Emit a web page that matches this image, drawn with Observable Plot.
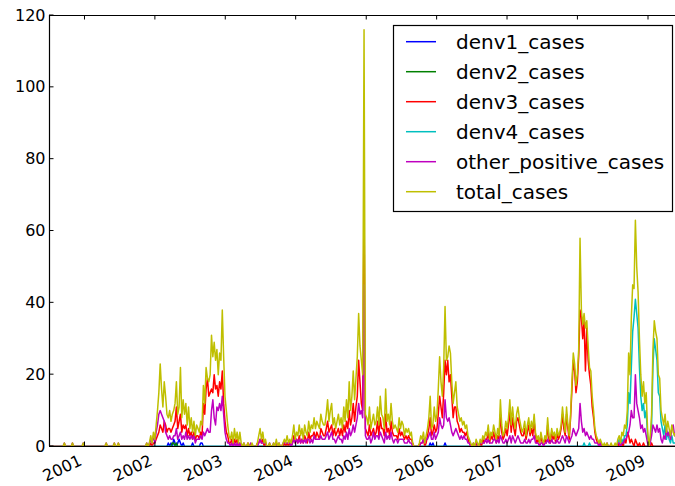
<!DOCTYPE html>
<html>
<head>
<meta charset="utf-8">
<script src="https://cdn.jsdelivr.net/npm/d3@7"></script>
<script src="https://cdn.jsdelivr.net/npm/@observablehq/plot@0.6"></script>
<style>
  html, body { margin: 0; padding: 0; background: #fff; }
  #chart { width: 675px; height: 486px; overflow: hidden; }
  #chart svg { display: block; }
</style>
</head>
<body>
<div id="chart"></div>
<script>
// ---- axis / tick labels ----
const start_date = "2000-07-01";   // first weekly observation
const end_date = "2009-05-21";     // right edge of the visible plot
const year_ticks = ["2001", "2002", "2003", "2004", "2005", "2006", "2007", "2008", "2009"];
const y_ticks = [0, 20, 40, 60, 80, 100, 120];
const series_names = ["denv1_cases", "denv2_cases", "denv3_cases", "denv4_cases", "other_positive_cases", "total_cases"];
const series_colors = ["#0000ff", "#008000", "#ff0000", "#00bfbf", "#bf00bf", "#bfbf00"];

// ---- weekly values, one row per season (July..June) ----
const total_cases = [
  0,0,0,0,0,0,0,0,0,0,0,1,0, 0,0,0,0,1,0,0,0,0,0,0,0,1, 0,0,0,0,0,0,0,0,0,0,0,0,0, 0,0,0,1,0,0,0,0,0,1,0,0,1,
  0,0,0,0,0,0,0,0,0,0,0,0,0, 0,0,0,0,0,0,0,1,0,1,3,1,4, 2,6,10,15,23,16,11,18,14,9,8,10,7, 9,10,12,18,9,11,22,8,13,9,12,6,11,
  5,8,4,7,3,6,5,4,7,6,17,12,22, 19,18,20,31,25,29,24,27,20,26,24,38,25, 14,10,6,3,2,4,1,5,2,4,1,4,1, 0,1,0,0,1,0,0,1,0,0,0,1,3,
  5,2,4,1,2,0,0,1,0,0,1,0,2, 0,1,0,0,1,2,1,3,1,2,1,3,6, 2,4,3,6,3,5,2,6,4,3,7,4,6, 5,8,5,7,6,5,9,7,6,6,9,13,7,
  10,12,6,8,5,7,9,6,8,5,11,7,13, 8,18,10,14,21,13,19,25,37,28,24,20,116, 9,8,6,11,5,7,9,6,7,11,6,14,9, 8,5,16,7,9,6,12,7,5,6,5,4,8,
  5,7,6,3,5,4,5,3,4,1,0,0,0, 0,1,3,2,4,1,3,5,8,14,5,6,11, 7,9,16,25,18,14,22,39,24,25,28,26,18, 12,15,18,11,9,7,8,6,7,5,6,3,2,
  1,0,1,0,2,1,0,2,1,3,2,4,3, 6,2,4,3,6,4,2,5,3,13,6,3,4, 7,5,8,13,6,11,7,5,9,11,8,6,4, 5,7,3,6,8,4,7,5,9,4,2,3,1,
  4,2,1,3,2,8,3,2,5,3,4,2,5, 3,4,6,11,7,4,11,6,3,9,18,26,23, 17,20,27,58,38,34,37,33,35,28,22,21,14, 10,5,3,2,1,2,1,0,1,0,1,0,0,
  1,0,0,1,0,2,3,1,4,3,6,5,10, 26,20,36,45,44,63,50,43,30,20,14,18,12, 15,5,0,3,9,27,35,32,30,20,19,10,8, 6,9,4,7,5,3,6,4,3,4
];

const denv3_cases = [
  0,0,0,0,0,0,0,0,0,0,0,0,0, 0,0,0,0,0,0,0,0,0,0,0,0,0, 0,0,0,0,0,0,0,0,0,0,0,0,0, 0,0,0,0,0,0,0,0,0,0,0,0,0,
  0,0,0,0,0,0,0,0,0,0,0,0,0, 0,0,0,0,0,0,0,0,0,0,1,0,1, 1,2,3,4,6,5,4,7,6,4,5,5,4, 5,6,7,11,5,7,9,4,6,5,6,3,5,
  3,4,2,4,2,3,3,2,4,3,12,9,16, 19,14,15,16,15,20,16,17,14,18,16,21,12, 7,4,3,1,1,2,0,2,1,2,0,1,0, 0,0,0,0,1,0,0,0,0,0,0,1,1,
  2,1,2,0,1,0,0,0,0,0,0,0,1, 0,0,0,0,0,1,0,1,0,1,0,1,3, 1,2,1,3,1,2,1,3,2,1,4,2,3, 3,4,2,4,3,2,5,4,3,3,5,7,4,
  5,6,3,5,3,4,5,3,5,3,6,4,7, 5,10,6,8,12,7,11,14,24,18,12,10,67, 5,4,3,6,3,4,5,3,4,7,3,8,5, 5,3,9,4,5,3,7,4,3,3,3,2,5,
  3,4,3,2,3,2,3,2,2,1,0,0,0, 0,0,1,1,2,0,1,3,5,8,3,4,6, 4,5,9,14,11,8,15,24,20,24,18,20,14, 8,11,11,7,6,4,5,4,4,3,4,2,1,
  0,0,0,0,1,0,0,1,0,2,1,2,2, 4,1,3,2,4,2,1,3,2,9,4,2,3, 5,3,6,10,4,8,5,3,7,8,6,4,3, 3,5,2,4,6,3,5,3,7,3,1,2,1,
  3,1,1,2,1,6,2,1,4,2,3,1,4, 2,3,5,9,5,3,9,5,2,8,16,24,21, 15,18,25,38,36,30,35,21,33,24,20,17,11, 8,4,2,1,1,1,0,0,0,0,0,0,0,
  0,0,0,0,0,0,1,0,1,0,2,1,4, 3,1,2,1,0,2,1,0,1,0,0,1,0, 0,0,0,0,1,0,0,0,0,0,0,0,0, 0,0,0,0,0,0,0,0,0,0
];

const other_positive_cases = [
  0,0,0,0,0,0,0,0,0,0,0,1,0, 0,0,0,0,1,0,0,0,0,0,0,0,1, 0,0,0,0,0,0,0,0,0,0,0,0,0, 0,0,0,1,0,0,0,0,0,1,0,0,1,
  0,0,0,0,0,0,0,0,0,0,0,0,0, 0,0,0,0,0,0,0,1,0,1,2,1,3, 1,4,6,9,10,9,8,7,4,3,2,3,2, 2,3,3,5,2,3,4,2,3,2,4,2,3,
  2,3,2,3,1,2,2,2,3,2,4,3,4, 5,4,4,10,13,8,6,11,10,12,10,14,9, 4,2,1,1,0,1,0,1,0,1,0,1,0, 0,1,0,0,0,0,1,0,0,0,0,0,1,
  2,1,1,1,1,0,0,1,0,0,1,0,1, 0,1,0,0,1,1,1,1,1,1,0,1,2, 1,2,1,2,1,2,1,2,1,2,2,1,2, 1,3,2,2,2,2,3,2,2,2,3,4,2,
  3,4,2,2,1,2,3,2,2,1,3,2,4, 2,5,3,4,6,4,6,8,12,9,10,8,45, 3,2,2,3,1,2,4,2,3,3,2,4,3, 2,1,4,2,3,2,4,2,1,2,2,1,2,
  2,2,2,1,1,1,2,1,1,0,0,0,0, 0,0,1,1,2,1,2,2,3,4,2,2,4, 2,3,4,8,6,5,6,13,8,7,8,6,4, 3,4,5,4,3,2,3,2,3,2,2,1,1,
  0,0,1,0,1,1,0,1,1,1,1,2,1, 2,1,1,1,2,2,1,2,1,3,2,1,1, 2,1,2,3,1,3,2,1,2,3,2,1,1, 1,2,1,1,2,1,2,2,3,1,1,1,0,
  1,1,0,1,1,2,1,1,2,1,1,1,2, 1,1,2,3,2,1,3,2,1,2,3,5,4, 3,4,5,12,7,4,5,3,4,3,2,3,2, 2,1,1,1,0,1,0,0,0,0,1,0,0,
  0,0,0,0,0,1,1,0,1,1,2,2,3, 4,6,10,8,8,20,12,10,8,5,6,4,5, 3,1,0,1,3,6,5,4,6,4,5,2,1, 3,2,5,3,4,2,5,6,3,4
];

const denv4_cases = [
  0,0,0,0,0,0,0,0,0,0,0,0,0, 0,0,0,0,0,0,0,0,0,0,0,0,0, 0,0,0,0,0,0,0,0,0,0,0,0,0, 0,0,0,0,0,0,0,0,0,0,0,0,0,
  0,0,0,0,0,0,0,0,0,0,0,0,0, 0,0,0,0,0,0,0,0,0,0,0,0,0, 0,0,0,0,0,0,0,0,0,0,0,0,0, 0,0,0,0,0,0,0,0,0,0,0,0,0,
  0,0,0,0,0,0,0,0,0,0,0,0,0, 0,0,0,0,0,0,0,0,0,0,0,0,0, 0,0,0,0,0,0,0,0,0,0,0,0,0, 0,0,0,0,0,0,0,0,0,0,0,0,0,
  0,0,0,0,0,0,0,0,0,0,0,0,0, 0,0,0,0,0,0,0,0,0,0,0,0,0, 0,0,0,0,0,0,0,0,0,0,0,0,0, 0,0,0,0,0,0,0,0,0,0,0,0,0,
  0,0,0,0,0,0,0,0,0,0,0,0,0, 0,0,0,0,0,0,0,0,0,0,0,0,0, 0,0,0,0,0,0,0,0,0,0,0,0,0, 0,0,0,0,0,0,0,0,0,0,0,0,0,
  0,0,0,0,0,0,0,0,0,0,0,0,0, 0,0,0,0,0,0,0,0,0,0,0,0,0, 0,0,0,0,0,0,0,0,0,0,0,0,0, 0,0,0,0,0,0,0,0,0,0,0,0,0,
  0,0,0,0,0,0,0,0,0,0,0,0,0, 0,0,0,0,0,0,0,0,0,0,0,0,0, 0,0,0,0,0,0,0,0,0,0,0,0,0, 0,0,0,0,0,0,0,0,0,0,0,0,0,
  0,0,0,0,0,0,0,0,0,0,0,0,0, 0,0,0,0,0,0,0,0,0,0,0,0,0, 0,0,0,0,0,0,1,0,0,0,1,0,0, 0,0,0,0,0,0,0,0,0,0,0,0,0,
  0,0,0,0,0,1,2,1,2,1,3,3,6, 15,12,22,32,36,41,37,33,22,14,10,12,8, 10,3,0,2,6,22,30,27,24,15,14,7,5, 3,6,2,4,2,1,3,1,1,1
];

const denv1_cases = [
  0,0,0,0,0,0,0,0,0,0,0,0,0, 0,0,0,0,0,0,0,0,0,0,0,0,0, 0,0,0,0,0,0,0,0,0,0,0,0,0, 0,0,0,0,0,0,0,0,0,0,0,0,0,
  0,0,0,0,0,0,0,0,0,0,0,0,0, 0,0,0,0,0,0,0,0,0,0,0,0,0, 0,0,0,0,0,0,0,0,0,0,1,0,1, 0,2,1,0,1,2,1,0,1,0,0,0,0,
  0,0,1,0,0,0,0,0,1,1,0,0,0, 0,0,0,0,0,0,0,0,0,0,0,0,0, 0,0,0,0,0,0,0,0,0,0,0,0,0, 0,0,0,0,0,0,0,0,0,0,0,0,0,
  0,0,0,0,0,0,0,0,0,0,0,0,0, 0,0,0,0,0,0,0,0,0,0,0,0,0, 0,0,0,0,0,0,0,0,0,0,0,0,0, 0,0,0,0,0,0,0,0,0,0,0,0,0,
  0,0,0,0,0,0,0,0,0,0,0,0,0, 0,0,0,0,0,0,0,0,0,0,0,0,0, 0,0,0,0,0,0,0,0,0,0,0,0,0, 0,0,0,0,0,0,0,0,0,0,0,0,0,
  0,0,0,0,0,0,0,0,0,0,0,0,0, 0,0,0,0,0,0,0,0,0,1,0,1,0, 0,0,0,0,0,0,0,1,0,0,0,0,0, 0,0,0,0,0,0,0,0,0,0,0,0,0,
  0,0,0,0,0,0,0,0,0,0,0,0,0, 0,0,0,0,0,0,0,0,0,0,0,0,0, 0,0,0,0,0,0,0,0,0,0,0,0,0, 0,0,0,0,0,0,0,0,0,0,0,0,0,
  0,0,0,0,0,0,0,0,0,0,0,0,0, 0,0,0,0,0,0,0,0,0,0,0,0,0, 0,0,0,0,0,0,0,0,0,0,0,0,0, 0,0,0,0,0,0,0,0,0,0,0,0,0,
  0,0,0,0,0,0,0,0,0,0,0,0,0, 0,0,0,0,0,0,0,0,0,0,0,0,0, 0,0,0,0,0,0,0,0,0,0,0,0,0, 0,0,0,0,0,0,0,0,0,0
];

const denv2_cases = [
  0,0,0,0,0,0,0,0,0,0,0,0,0, 0,0,0,0,0,0,0,0,0,0,0,0,0, 0,0,0,0,0,0,0,0,0,0,0,0,0, 0,0,0,0,0,0,0,0,0,0,0,0,0,
  0,0,0,0,0,0,0,0,0,0,0,0,0, 0,0,0,0,0,0,0,0,0,0,0,0,0, 0,0,0,0,0,0,0,0,0,0,0,0,0, 1,1,0,1,0,0,0,0,0,0,0,0,0,
  0,0,0,0,0,0,0,0,0,0,0,0,0, 0,0,0,0,0,0,0,0,0,0,0,0,0, 0,0,0,0,0,0,0,0,0,0,0,0,0, 0,0,0,0,0,0,0,0,0,0,0,0,0,
  0,0,0,0,0,0,0,0,0,0,0,0,0, 0,0,0,0,0,0,0,0,0,0,0,0,0, 0,0,0,0,0,0,0,0,0,0,0,0,0, 0,0,0,0,0,0,0,0,0,0,0,0,0,
  0,0,0,0,0,0,0,0,0,0,0,0,0, 0,0,0,0,0,0,0,0,0,0,0,0,0, 0,0,0,0,0,0,0,0,0,0,0,0,0, 0,0,0,0,0,0,0,0,0,0,0,0,0,
  0,0,0,0,0,0,0,0,0,0,0,0,0, 0,0,0,0,0,0,0,0,0,0,0,0,0, 0,0,0,0,0,0,0,0,0,0,0,0,0, 0,0,0,0,0,0,0,0,0,0,0,0,0,
  0,0,0,0,0,0,0,0,0,0,0,0,0, 0,0,0,0,0,0,0,0,0,0,0,0,0, 0,0,0,0,0,0,0,0,0,0,0,0,0, 0,0,0,0,0,0,0,0,0,0,0,0,0,
  0,0,0,0,0,0,0,0,0,0,0,0,0, 0,0,0,0,0,0,0,0,0,0,0,0,0, 0,0,0,0,0,0,0,0,0,0,0,0,0, 0,0,0,0,0,0,0,0,0,0,0,0,0,
  0,0,0,0,0,0,0,0,0,0,0,0,0, 0,0,0,0,0,0,0,0,0,0,0,0,0, 0,0,0,0,0,0,0,0,0,0,0,0,0, 0,0,0,0,0,0,0,0,0,0
];

// ---- build the table ----
const series_values = [denv1_cases, denv2_cases, denv3_cases, denv4_cases, other_positive_cases, total_cases];
series_values.forEach((arr, k) => {
  if (arr.length !== total_cases.length) throw new Error(series_names[k] + " length " + arr.length + " vs " + total_cases.length);
});
const t0 = new Date(start_date + "T00:00:00Z");
const t1 = new Date(end_date + "T00:00:00Z");
const DAY = 86400000;
const weekDate = i => new Date(t0.getTime() + i * 7 * DAY);
const tables = series_values.map(arr => arr.map((v, i) => ({date: weekDate(i), value: v})));
const yearDates = year_ticks.map(y => ({date: new Date(y + "-01-01T00:00:00Z"), label: y}));

const chart = Plot.plot({
  width: 675,
  height: 486,
  marginLeft: 49,
  marginRight: 0,
  marginTop: 15,
  marginBottom: 40,
  style: {fontFamily: "'DejaVu Sans', sans-serif", fontSize: "16px", background: "#fff", color: "#000"},
  x: {type: "utc", domain: [t0, t1], label: null, axis: null},
  y: {type: "linear", domain: [0, 120], label: null},
  marks: [
    ...tables.map((tbl, k) => Plot.lineY(tbl, {x: "date", y: "value", stroke: series_colors[k], strokeWidth: 1.5, clip: true})),
    Plot.ruleY([0, 120], {stroke: "#000", strokeWidth: 1.2}),
    Plot.ruleX([t0], {stroke: "#000", strokeWidth: 1.2}),
    Plot.axisY(y_ticks, {tickSize: 0, tickPadding: 4, fontSize: 16, tickFormat: d => String(d)}),
    Plot.text(yearDates, {x: "date", text: "label", frameAnchor: "bottom", rotate: -25, textAnchor: "end", lineAnchor: "bottom", dx: -2, dy: 18, fontSize: 16, fill: "#000"})
  ]
});
document.getElementById("chart").appendChild(chart);

// ---- inward ticks (matplotlib style) and legend, positioned via Plot's scales ----
const xs = chart.scale("x"), ys = chart.scale("y");
const svg = d3.select(chart);
const tg = svg.append("g").attr("stroke", "#000").attr("stroke-width", 1);
const yBottom = ys.apply(0), yTop = ys.apply(120), xLeft = xs.apply(t0);
yearDates.forEach(d => {
  const x = xs.apply(d.date);
  tg.append("line").attr("x1", x).attr("x2", x).attr("y1", yBottom).attr("y2", yBottom - 4.5);
  tg.append("line").attr("x1", x).attr("x2", x).attr("y1", yTop).attr("y2", yTop + 4.5);
});
y_ticks.forEach(v => {
  const y = ys.apply(v);
  tg.append("line").attr("x1", xLeft).attr("x2", xLeft + 4.5).attr("y1", y).attr("y2", y);
});

const lg = svg.append("g").attr("text-anchor", "start");
lg.append("rect").attr("x", 393.5).attr("y", 25.5).attr("width", 279).attr("height", 186)
  .attr("fill", "#fff").attr("stroke", "#000").attr("stroke-width", 1.2);
series_names.forEach((name, k) => {
  const y = 41.7 + 30 * k;
  lg.append("line").attr("x1", 406).attr("x2", 436).attr("y1", y).attr("y2", y)
    .attr("stroke", series_colors[k]).attr("stroke-width", 1.5);
  lg.append("text").attr("x", 456).attr("y", y + 7.3).text(name)
    .attr("text-anchor", "start")
    .attr("font-family", "'DejaVu Sans', sans-serif").attr("font-size", 20).attr("fill", "#000");
});
</script>
</body>
</html>
